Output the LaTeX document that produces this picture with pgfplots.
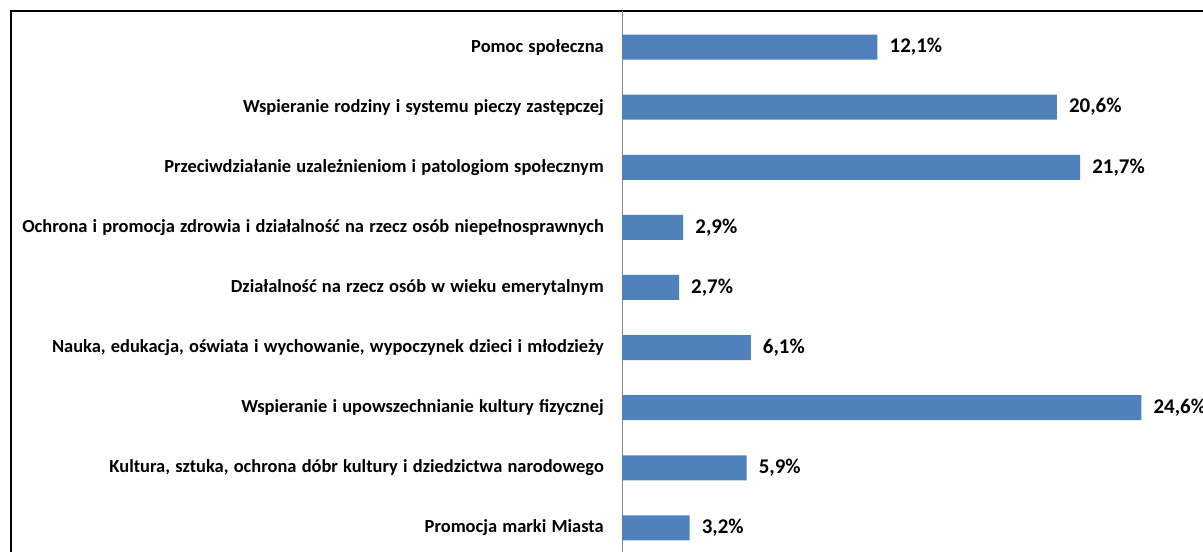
\documentclass[border=0pt]{standalone}
\usepackage{fontspec}
\setmainfont{Carlito}[WordSpace=1.25]
\usepackage{pgfplots}
\pgfplotsset{compat=1.18}
\definecolor{barblue}{HTML}{4F81BD}
\definecolor{axisgray}{RGB}{134,134,134}
\begin{document}
\begin{tikzpicture}[x=1bp,y=1bp]
\useasboundingbox (0,0) rectangle (1203,552);
\draw[line width=2bp] (10.5,-5) -- (10.5,541) -- (1210,541);
\begin{axis}[
  at={(622bp,541bp)}, anchor=north west,
  scale only axis, width=570bp, height=577bp,
  xmin=0, xmax=27, ymin=-0.6, ymax=9,
  y dir=reverse,
  xbar, bar width=25bp,
  clip=false,
  hide x axis,
  axis y line*=left,
  y axis line style={draw=axisgray, line width=1bp},
  ytick={0,1,2,3,4,5,6,7,8},
  yticklabels={Pomoc społeczna,
    Wspieranie rodziny i systemu pieczy zastępczej,
    Przeciwdziałanie uzależnieniom i patologiom społecznym,
    Ochrona i promocja zdrowia i działalność na rzecz osób niepełnosprawnych,
    Działalność na rzecz osób w wieku emerytalnym,
    {Nauka, edukacja, oświata i wychowanie, wypoczynek dzieci i młodzieży},
    Wspieranie i upowszechnianie kultury fizycznej,
    {Kultura, sztuka, ochrona dóbr kultury i dziedzictwa narodowego},
    Promocja marki Miasta},
  major tick length=0pt,
  yticklabel style={font=\bfseries\fontsize{18.5}{22}\selectfont, anchor=east, inner sep=0pt, xshift=-18bp, text=black},
  point meta=x,
  nodes near coords={\pgfmathprintnumber[fixed, fixed zerofill, precision=1, use comma, assume math mode=true]{\pgfplotspointmeta}\%},
  nodes near coords style={font=\bfseries\fontsize{21}{25}\selectfont, anchor=west, inner sep=0pt, xshift=12bp, text=black},
]
\addplot[fill=barblue, draw=none] coordinates {
  (12.1,0) (20.6,1) (21.7,2) (2.9,3) (2.7,4) (6.1,5) (24.6,6) (5.9,7) (3.2,8)
};
\end{axis}
\end{tikzpicture}
\end{document}
